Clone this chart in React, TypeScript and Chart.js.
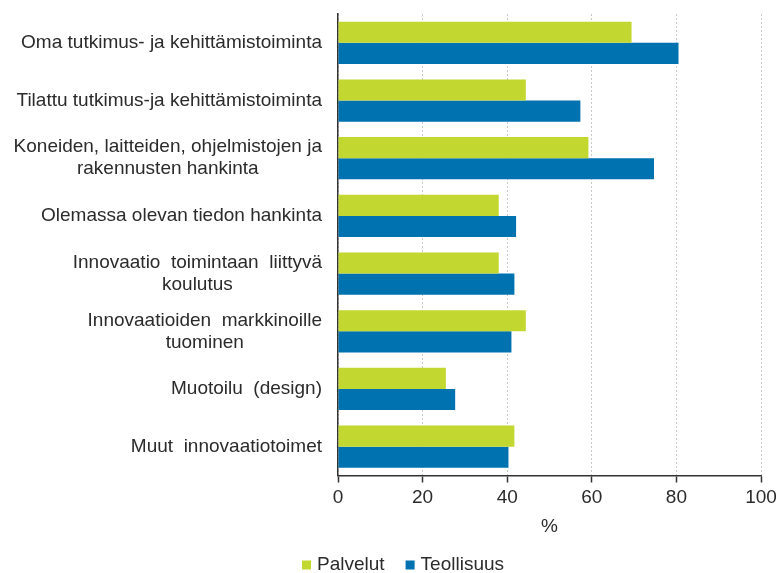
import React, { useEffect, useRef } from "react";
import { Chart, registerables } from "chart.js";

Chart.register(...registerables);

const categories: string[][] = [
  ["Oma tutkimus- ja kehittämistoiminta"],
  ["Tilattu tutkimus-ja kehittämistoiminta"],
  ["Koneiden, laitteiden, ohjelmistojen ja", "rakennusten hankinta"],
  ["Olemassa olevan tiedon hankinta"],
  ["Innovaatio  toimintaan  liittyvä", "koulutus"],
  ["Innovaatioiden  markkinoille", "tuominen"],
  ["Muotoilu  (design)"],
  ["Muut  innovaatiotoimet"],
];
const palvelut = [69.4, 44.4, 59.2, 38.0, 38.0, 44.4, 25.5, 41.7];
const teollisuus = [80.5, 57.3, 74.7, 42.1, 41.7, 41.0, 27.7, 40.3];
const xTicks = [0, 20, 40, 60, 80, 100];
const seriesNames = ["Palvelut", "Teollisuus"];
const axisTitle = "%";

const GREEN = "#c2d830";
const BLUE = "#0072b0";
const TEXT = "#2b2b2b";
const FONT = '"Liberation Sans", Arial, sans-serif';

export default function App() {
  const ref = useRef<HTMLCanvasElement | null>(null);
  useEffect(() => {
    if (!ref.current) return;
    const labelPlugin = {
      id: "customText",
      afterDraw(chart: any) {
        const ctx = chart.ctx;
        const y = chart.scales.y;
        const area = chart.chartArea;
        ctx.save();
        ctx.font = `19px ${FONT}`;
        ctx.fillStyle = TEXT;
        ctx.textBaseline = "middle";
        ctx.textAlign = "center";
        const lh = 22;
        categories.forEach((lines, i) => {
          const cy = y.getPixelForTick(i);
          const w = Math.max(...lines.map((l) => ctx.measureText(l).width));
          const right = area.left - 16;
          const cx = right - w / 2;
          lines.forEach((l, j) => {
            ctx.fillText(l, cx, cy + (j - (lines.length - 1) / 2) * lh);
          });
        });
        // axis title
        ctx.fillText(axisTitle, (area.left + area.right) / 2, 527);
        // legend
        const colors = [GREEN, BLUE];
        let x = 302;
        const ly = 565;
        ctx.textAlign = "left";
        seriesNames.forEach((name, i) => {
          ctx.fillStyle = colors[i];
          ctx.fillRect(x, ly - 4.5, 9, 9);
          ctx.fillStyle = TEXT;
          ctx.fillText(name, x + 15, ly);
          x += 15 + ctx.measureText(name).width + 21;
        });
        ctx.restore();
      },
    };
    const chart = new Chart(ref.current, {
      type: "bar",
      data: {
        labels: categories.map((c) => c.join(" ")),
        datasets: [
          {
            label: seriesNames[0],
            data: palvelut,
            backgroundColor: GREEN,
            categoryPercentage: 0.733,
            barPercentage: 1,
          },
          {
            label: seriesNames[1],
            data: teollisuus,
            backgroundColor: BLUE,
            categoryPercentage: 0.733,
            barPercentage: 1,
          },
        ],
      },
      options: {
        indexAxis: "y",
        animation: false,
        responsive: false,
        maintainAspectRatio: false,
        layout: { padding: { top: 14, right: 15, left: 0, bottom: 0 } },
        plugins: {
          legend: { display: false },
          tooltip: { enabled: false },
        },
        scales: {
          x: {
            min: 0,
            max: 100,
            afterBuildTicks: (s: any) => {
              s.ticks = xTicks.map((v) => ({ value: v }));
            },
            afterFit: (s: any) => {
              s.height = 97.5;
              s.paddingLeft = 0;
              s.paddingRight = 0;
            },
            ticks: {
              font: { family: FONT, size: 19 },
              color: TEXT,
              padding: 4,
            },
            grid: {
              color: "#c8c8c8",
              lineWidth: 1,
              tickColor: "#333333",
              tickLength: 7,
              tickWidth: 1.5,
              tickBorderDash: [],
            },
            border: { display: true, color: "#333333", width: 1.5, dash: [2, 2] },
          },
          y: {
            ticks: { display: false },
            grid: { display: false },
            afterFit: (s: any) => {
              s.width = 338;
            },
            border: { display: true, color: "#333333", width: 1.5 },
          },
        },
      },
      plugins: [labelPlugin],
    });
    return () => chart.destroy();
  }, []);
  return (
    <div style={{ position: "fixed", left: 0, top: 0, width: 776, height: 573, background: "#fff" }}>
      <canvas ref={ref} width={776} height={573} style={{ width: 776, height: 573 }} />
    </div>
  );
}
